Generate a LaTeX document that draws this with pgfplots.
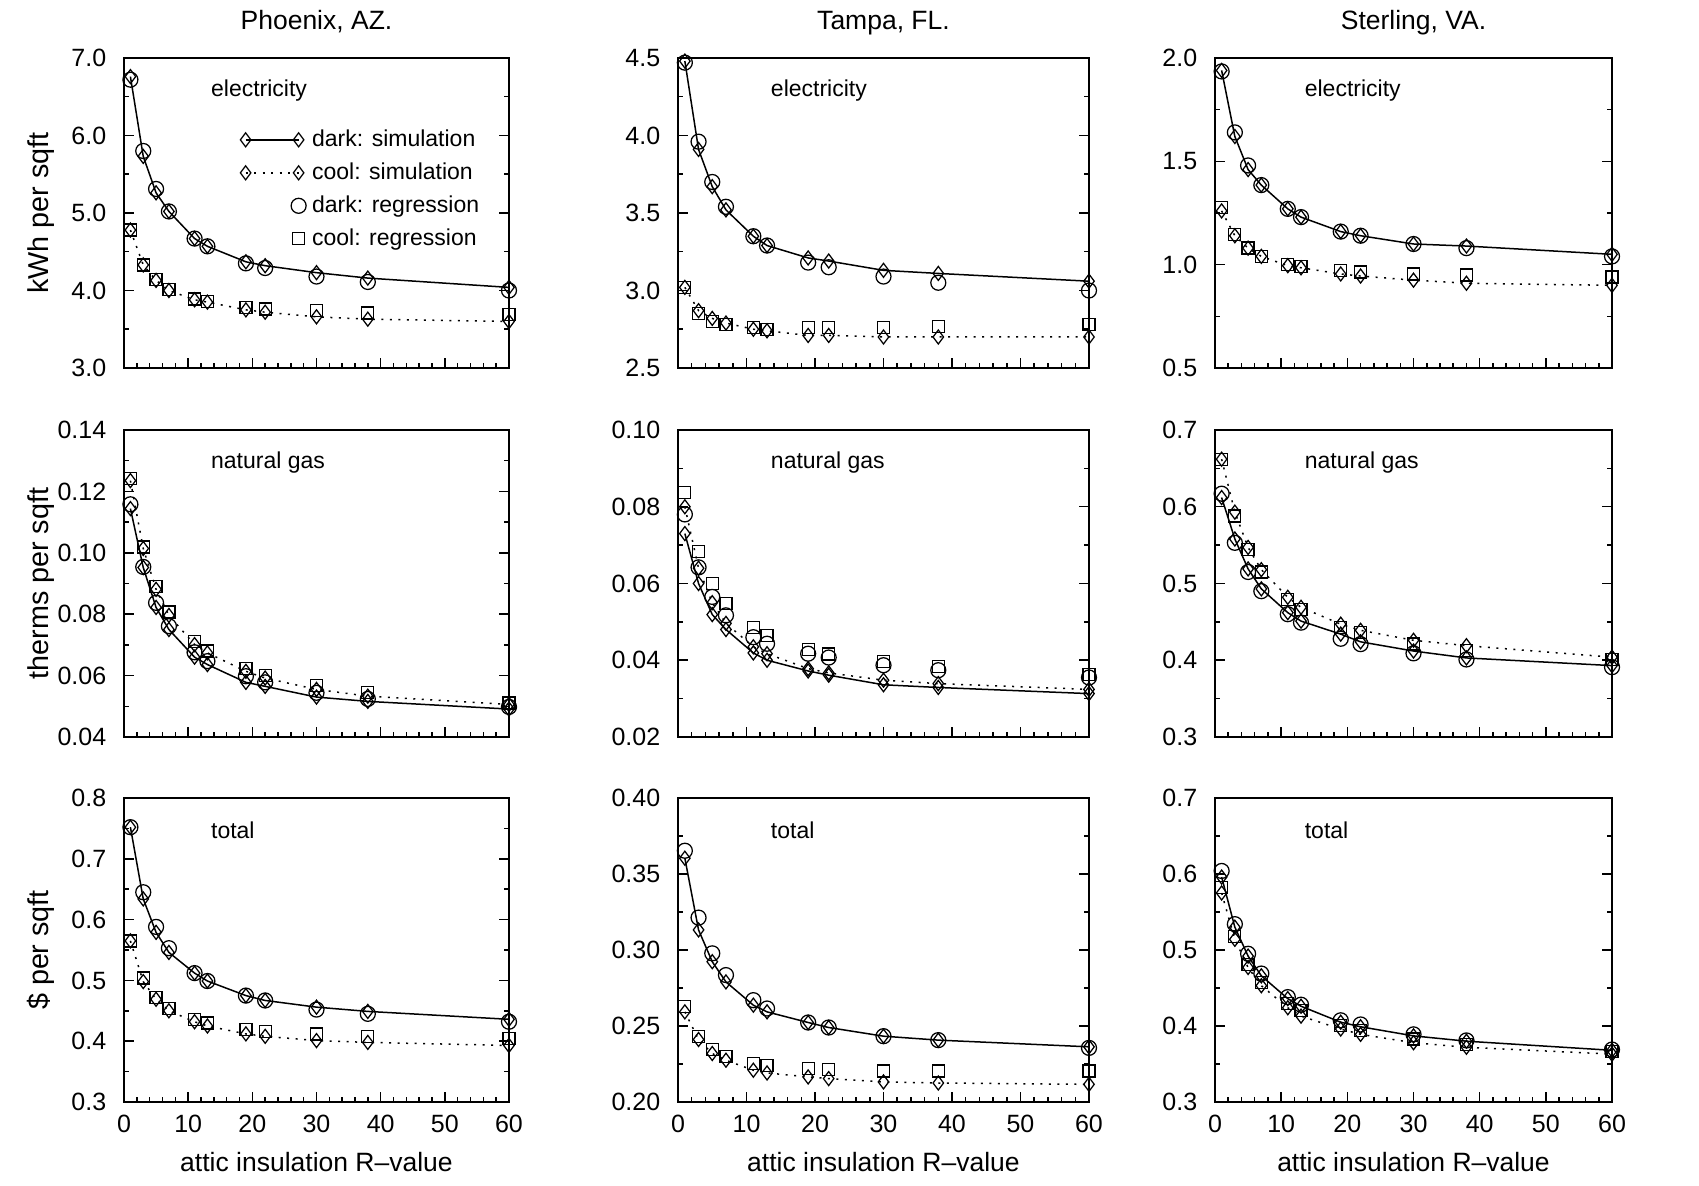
\documentclass[border=0pt]{standalone}
\usepackage{fontspec}
\setmainfont{Liberation Sans}
\usepackage{pgfplots}
\pgfplotsset{compat=1.18}
\newcommand{\tickfont}{\fontsize{10}{12}\selectfont}
\newcommand{\titlefont}{\fontsize{10.6}{12.5}\selectfont}
\newcommand{\ylabfont}{\fontsize{11.5}{13.5}\selectfont}
\newcommand{\annfont}{\fontsize{9.2}{11}\selectfont}
\pgfplotsset{
  every axis title shift=0pt,
  panel/.style={
    scale only axis, xmin=0, xmax=60, xtick={0,10,20,30,40,50,60},
    minor x tick num=4, minor y tick num=1, tick align=inside,
    xtick pos=left, ytick pos=both, major tick length=4pt, minor tick length=2pt,
    clip=false, axis line style={line width=0.8pt},
    every tick/.style={line width=0.6pt, black},
    tick label style={font=\tickfont},
    /pgf/number format/assume math mode=true,
    scaled y ticks=false,
    yticklabel style={xshift=-3.6pt},
    xticklabel style={yshift=-1.5pt},
    title style={at={(axis description cs:0.5,1)}, anchor=base, yshift=11.2pt, inner sep=0pt, font=\titlefont},
    ylabel style={at={(axis description cs:-0.215,0.5)}, anchor=center, font=\ylabfont},
    xlabel style={at={(axis description cs:0.5,0)}, yshift=-24pt, anchor=center, font=\titlefont},
  },
  notx/.style={xticklabels={}},
  p1/.style={yticklabel style={/pgf/number format/.cd, fixed, fixed zerofill, precision=1}},
  p2/.style={yticklabel style={/pgf/number format/.cd, fixed, fixed zerofill, precision=2}},
  ds/.style={black, line width=0.6pt, mark=diamond, mark size=2.8pt, mark options={solid, line width=0.5pt}},
  cs/.style={black, line width=0.6pt, dash pattern=on 0.8pt off 2.6pt, mark=diamond, mark size=2.8pt, mark options={solid, line width=0.5pt}},
  dr/.style={black, only marks, mark=o, mark size=3pt, mark options={solid, line width=0.5pt}},
  cr/.style={black, only marks, mark=square, mark size=2.4pt, mark options={solid, line width=0.5pt}},
  simleg/.style={legend image code/.code={\draw[##1] plot coordinates {(0pt,0pt) (21.2pt,0pt)};}},
  regleg/.style={legend image code/.code={\path[draw=none,fill=none] (0pt,0pt) -- (21.2pt,0pt); \draw[##1] plot coordinates {(21.2pt,0pt)};}},
  col1/.style={width=154pt},
  col2/.style={width=164.4pt},
  col3/.style={width=158.8pt},
}
\newcommand{\ann}[1]{\node[anchor=west, font=\annfont, inner sep=0pt] at (rel axis cs:0.225,0.895) {#1};}
\begin{document}
\begin{tikzpicture}
\useasboundingbox (0,0) rectangle (679.6pt,474pt);

% ---------------- Row 1: electricity ----------------
\begin{axis}[panel, col1, notx, p1, at={(49.6pt,450.8pt)}, anchor=north west, height=124pt,
  ymin=3, ymax=7, ytick={3,4,5,6,7}, title={Phoenix, AZ.}, ylabel={kWh per sqft},
  legend cell align=left,
  legend style={at={(rel axis cs:0.301,0.774)}, anchor=north west, draw=none, fill=none,
    inner sep=0pt, font=\annfont, row sep=4.2pt, column sep=2.4pt,
    nodes={inner sep=0pt, text height=7pt, text depth=2pt}},
  ]
\addplot[ds, simleg]
  coordinates {(1,6.76)(3,5.73)(5,5.26)(7,5.02)(11,4.67)(13,4.57)(19,4.37)(22,4.32)(30,4.23)(38,4.16)(60,4.04)};
\addlegendentry{dark: simulation}
\addplot[cs, simleg]
  coordinates {(1,4.78)(3,4.33)(5,4.13)(7,4.00)(11,3.88)(13,3.85)(19,3.75)(22,3.72)(30,3.66)(38,3.63)(60,3.60)};
\addlegendentry{cool: simulation}
\addplot[dr, regleg]
  coordinates {(1,6.72)(3,5.80)(5,5.31)(7,5.02)(11,4.67)(13,4.57)(19,4.35)(22,4.29)(30,4.18)(38,4.11)(60,4.00)};
\addlegendentry{dark: regression}
\addplot[cr, regleg]
  coordinates {(1,4.78)(3,4.33)(5,4.14)(7,4.01)(11,3.89)(13,3.86)(19,3.78)(22,3.76)(30,3.74)(38,3.71)(60,3.69)};
\addlegendentry{cool: regression}
\ann{electricity}
\end{axis}

\begin{axis}[panel, col2, notx, p1, at={(271.2pt,450.8pt)}, anchor=north west, height=124pt,
  ymin=2.5, ymax=4.5, ytick={2.5,3.0,3.5,4.0,4.5}, title={Tampa, FL.}]
\addplot[ds] coordinates {(1,4.48)(3,3.91)(5,3.67)(7,3.52)(11,3.35)(13,3.29)(19,3.21)(22,3.19)(30,3.13)(38,3.11)(60,3.06)};
\addplot[cs] coordinates {(1,3.02)(3,2.87)(5,2.82)(7,2.79)(11,2.75)(13,2.74)(19,2.71)(22,2.71)(30,2.70)(38,2.70)(60,2.70)};
\addplot[dr] coordinates {(1,4.47)(3,3.96)(5,3.70)(7,3.54)(11,3.35)(13,3.29)(19,3.18)(22,3.15)(30,3.09)(38,3.05)(60,3.00)};
\addplot[cr] coordinates {(1,3.02)(3,2.85)(5,2.80)(7,2.78)(11,2.76)(13,2.75)(19,2.76)(22,2.76)(30,2.76)(38,2.77)(60,2.78)};
\ann{electricity}
\end{axis}

\begin{axis}[panel, col3, notx, p1, at={(486pt,450.8pt)}, anchor=north west, height=124pt,
  ymin=0.5, ymax=2.0, ytick={0.5,1.0,1.5,2.0}, title={Sterling, VA.}]
\addplot[ds] coordinates {(1,1.94)(3,1.62)(5,1.46)(7,1.385)(11,1.27)(13,1.23)(19,1.16)(22,1.14)(30,1.10)(38,1.09)(60,1.05)};
\addplot[cs] coordinates {(1,1.26)(3,1.14)(5,1.08)(7,1.04)(11,0.995)(13,0.985)(19,0.955)(22,0.945)(30,0.925)(38,0.91)(60,0.90)};
\addplot[dr] coordinates {(1,1.935)(3,1.64)(5,1.48)(7,1.385)(11,1.27)(13,1.23)(19,1.16)(22,1.14)(30,1.10)(38,1.08)(60,1.04)};
\addplot[cr] coordinates {(1,1.275)(3,1.145)(5,1.08)(7,1.04)(11,1.00)(13,0.99)(19,0.97)(22,0.965)(30,0.955)(38,0.95)(60,0.94)};
\ann{electricity}
\end{axis}

% ---------------- Row 2: natural gas ----------------
\begin{axis}[panel, col1, notx, p2, at={(49.6pt,302pt)}, anchor=north west, height=122.8pt,
  ymin=0.04, ymax=0.14, ytick={0.04,0.06,0.08,0.10,0.12,0.14}, ylabel={therms per sqft}]
\addplot[ds] coordinates {(1,0.1144)(3,0.0952)(5,0.0822)(7,0.0750)(11,0.0660)(13,0.0636)(19,0.0578)(22,0.0565)(30,0.0530)(38,0.0516)(60,0.0491)};
\addplot[cs] coordinates {(1,0.1235)(3,0.1014)(5,0.0881)(7,0.0796)(11,0.0701)(13,0.0674)(19,0.0614)(22,0.0592)(30,0.0555)(38,0.0533)(60,0.0506)};
\addplot[dr] coordinates {(1,0.1158)(3,0.0954)(5,0.0837)(7,0.0761)(11,0.0676)(13,0.0647)(19,0.0598)(22,0.0578)(30,0.0544)(38,0.0524)(60,0.0498)};
\addplot[cr] coordinates {(1,0.1243)(3,0.1019)(5,0.0890)(7,0.0807)(11,0.0710)(13,0.0680)(19,0.0622)(22,0.0600)(30,0.0568)(38,0.0544)(60,0.0511)};
\ann{natural gas}
\end{axis}

\begin{axis}[panel, col2, notx, p2, at={(271.2pt,302pt)}, anchor=north west, height=122.8pt,
  ymin=0.02, ymax=0.10, ytick={0.02,0.04,0.06,0.08,0.10}]
\addplot[ds] coordinates {(1,0.0730)(3,0.0600)(5,0.0519)(7,0.0480)(11,0.0419)(13,0.0400)(19,0.0372)(22,0.0361)(30,0.0336)(38,0.0329)(60,0.0313)};
\addplot[cs] coordinates {(1,0.0800)(3,0.0640)(5,0.0550)(7,0.0496)(11,0.0435)(13,0.0417)(19,0.0378)(22,0.0367)(30,0.0348)(38,0.0339)(60,0.0324)};
\addplot[dr] coordinates {(1,0.0780)(3,0.0642)(5,0.0565)(7,0.0517)(11,0.0460)(13,0.0443)(19,0.0417)(22,0.0407)(30,0.0387)(38,0.0374)(60,0.0355)};
\addplot[cr] coordinates {(1,0.0837)(3,0.0683)(5,0.0600)(7,0.0548)(11,0.0485)(13,0.0465)(19,0.0428)(22,0.0416)(30,0.0396)(38,0.0383)(60,0.0363)};
\ann{natural gas}
\end{axis}

\begin{axis}[panel, col3, notx, p1, at={(486pt,302pt)}, anchor=north west, height=122.8pt,
  ymin=0.3, ymax=0.7, ytick={0.3,0.4,0.5,0.6,0.7}]
\addplot[ds] coordinates {(1,0.612)(3,0.558)(5,0.519)(7,0.493)(11,0.462)(13,0.451)(19,0.434)(22,0.424)(30,0.412)(38,0.403)(60,0.393)};
\addplot[cs] coordinates {(1,0.662)(3,0.593)(5,0.547)(7,0.518)(11,0.482)(13,0.469)(19,0.447)(22,0.439)(30,0.426)(38,0.419)(60,0.404)};
\addplot[dr] coordinates {(1,0.617)(3,0.553)(5,0.515)(7,0.490)(11,0.460)(13,0.449)(19,0.428)(22,0.421)(30,0.409)(38,0.401)(60,0.391)};
\addplot[cr] coordinates {(1,0.662)(3,0.588)(5,0.544)(7,0.515)(11,0.479)(13,0.466)(19,0.443)(22,0.436)(30,0.421)(38,0.413)(60,0.401)};
\ann{natural gas}
\end{axis}

% ---------------- Row 3: total ----------------
\begin{axis}[panel, col1, p1, at={(49.6pt,154.8pt)}, anchor=north west, height=121.6pt,
  ymin=0.3, ymax=0.8, ytick={0.3,0.4,0.5,0.6,0.7,0.8}, ylabel={\$ per sqft}, xlabel={attic insulation R–value}]
\addplot[ds] coordinates {(1,0.752)(3,0.634)(5,0.579)(7,0.546)(11,0.512)(13,0.499)(19,0.475)(22,0.467)(30,0.456)(38,0.449)(60,0.436)};
\addplot[cs] coordinates {(1,0.565)(3,0.498)(5,0.469)(7,0.450)(11,0.432)(13,0.425)(19,0.412)(22,0.408)(30,0.401)(38,0.398)(60,0.393)};
\addplot[dr] coordinates {(1,0.752)(3,0.645)(5,0.588)(7,0.553)(11,0.512)(13,0.499)(19,0.475)(22,0.467)(30,0.452)(38,0.445)(60,0.432)};
\addplot[cr] coordinates {(1,0.565)(3,0.504)(5,0.472)(7,0.454)(11,0.436)(13,0.430)(19,0.419)(22,0.416)(30,0.412)(38,0.408)(60,0.405)};
\ann{total}
\end{axis}

\begin{axis}[panel, col2, p2, at={(271.2pt,154.8pt)}, anchor=north west, height=121.6pt,
  ymin=0.20, ymax=0.40, ytick={0.20,0.25,0.30,0.35,0.40}, xlabel={attic insulation R–value}]
\addplot[ds] coordinates {(1,0.3604)(3,0.3132)(5,0.2923)(7,0.2790)(11,0.2637)(13,0.2593)(19,0.2523)(22,0.2490)(30,0.2433)(38,0.2407)(60,0.2363)};
\addplot[cs] coordinates {(1,0.2593)(3,0.2411)(5,0.2319)(7,0.2275)(11,0.2209)(13,0.2191)(19,0.2165)(22,0.2154)(30,0.2132)(38,0.2125)(60,0.2116)};
\addplot[dr] coordinates {(1,0.3653)(3,0.3213)(5,0.2978)(7,0.2835)(11,0.2670)(13,0.2615)(19,0.2523)(22,0.2490)(30,0.2433)(38,0.2407)(60,0.2356)};
\addplot[cr] coordinates {(1,0.2626)(3,0.2429)(5,0.2345)(7,0.2301)(11,0.2253)(13,0.2242)(19,0.2220)(22,0.2213)(30,0.2204)(38,0.2204)(60,0.2204)};
\ann{total}
\end{axis}

\begin{axis}[panel, col3, p1, at={(486pt,154.8pt)}, anchor=north west, height=121.6pt,
  ymin=0.3, ymax=0.7, ytick={0.3,0.4,0.5,0.6,0.7}, xlabel={attic insulation R–value}]
\addplot[ds] coordinates {(1,0.596)(3,0.530)(5,0.492)(7,0.466)(11,0.436)(13,0.426)(19,0.405)(22,0.399)(30,0.387)(38,0.380)(60,0.368)};
\addplot[cs] coordinates {(1,0.575)(3,0.514)(5,0.477)(7,0.453)(11,0.424)(13,0.413)(19,0.396)(22,0.389)(30,0.378)(38,0.372)(60,0.363)};
\addplot[dr] coordinates {(1,0.604)(3,0.534)(5,0.495)(7,0.469)(11,0.438)(13,0.428)(19,0.4075)(22,0.402)(30,0.389)(38,0.381)(60,0.369)};
\addplot[cr] coordinates {(1,0.582)(3,0.518)(5,0.481)(7,0.457)(11,0.430)(13,0.420)(19,0.401)(22,0.394)(30,0.383)(38,0.376)(60,0.366)};
\ann{total}
\end{axis}
\end{tikzpicture}
\end{document}
